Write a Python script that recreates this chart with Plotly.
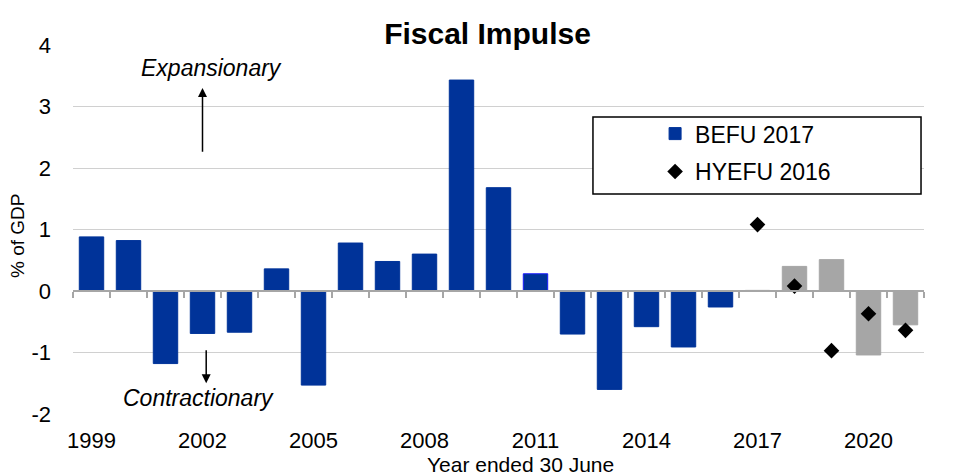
import plotly.graph_objects as go

years = list(range(1999, 2022))
befu_2017 = [0.88, 0.82, -1.18, -0.69, -0.67, 0.36, -1.53, 0.78, 0.48, 0.60,
             3.43, 1.68, 0.28, -0.70, -1.60, -0.58, -0.91, -0.26,
             0.01, 0.40, 0.51, -1.04, -0.55]
hyefu_years = [2017, 2018, 2019, 2020, 2021]
hyefu_2016 = [1.08, 0.08, -0.97, -0.37, -0.64]
tick_years = [1999, 2002, 2005, 2008, 2011, 2014, 2017, 2020]
y_ticks = [-2, -1, 0, 1, 2, 3, 4]
y_tick_text = ["-2", "-1", "0", "1", "2", "3", "4"]

BLUE = "#003399"
GREY = "#A6A6A6"
FONT = "Liberation Sans, Arial, sans-serif"

bar_colors = [BLUE if y <= 2016 else GREY for y in years]
bar_lines = ["#1A1AFF" if y == 2011 else c for y, c in zip(years, bar_colors)]

fig = go.Figure()
fig.add_trace(go.Bar(
    x=years, y=befu_2017, name="BEFU 2017", width=0.66,
    marker=dict(color=bar_colors, line=dict(color=bar_lines, width=1)),
    legendgroup="a",
))
fig.add_trace(go.Scatter(
    x=hyefu_years, y=hyefu_2016, name="HYEFU 2016", mode="markers",
    marker=dict(symbol="diamond", size=12, color="black"),
    legendgroup="b",
))
# empty trace to host the category-boundary tick axis at y=0
fig.add_trace(go.Scatter(x=[], y=[], xaxis="x2", showlegend=False))

boundaries = [y - 0.5 for y in years] + [years[-1] + 0.5]

fig.update_layout(
    width=950, height=465,
    margin=dict(l=65, r=34, t=37, b=59),
    paper_bgcolor="white", plot_bgcolor="white",
    font=dict(family=FONT, size=21, color="black"),
    showlegend=True,
    legend=dict(
        x=0.684, y=0.818, xanchor="left", yanchor="top",
        bgcolor="rgba(0,0,0,0)", borderwidth=0,
        font=dict(size=23), traceorder="grouped", tracegroupgap=5,
    ),
    xaxis=dict(
        range=[1998.5, 2021.5], tickvals=tick_years,
        ticktext=[str(t) for t in tick_years],
        showgrid=False, zeroline=False, showline=False, ticks="",
        ticklabelstandoff=11, tickfont=dict(size=22),
    ),
    xaxis2=dict(
        range=[1998.5, 2021.5], overlaying="x", anchor="free", position=1/3,
        side="bottom", tickvals=boundaries, showticklabels=False,
        ticks="outside", ticklen=6, tickwidth=1.5, tickcolor="#A6A6A6",
        showline=True, linecolor="#A6A6A6", linewidth=2,
        showgrid=False, zeroline=False,
    ),
    yaxis=dict(
        range=[-2, 4], tickvals=y_ticks, ticktext=y_tick_text,
        showgrid=True, gridcolor="#D0D0D0", gridwidth=1.3,
        zeroline=False, showline=False, ticks="", ticklabelstandoff=21,
        tickfont=dict(size=22),
    ),
    shapes=[dict(
        type="rect", xref="paper", yref="paper",
        x0=0.611, x1=0.9965, y0=0.596, y1=0.805,
        line=dict(color="black", width=1.5), fillcolor="white", layer="above",
    )],
    annotations=[
        dict(text="<b>Fiscal Impulse</b>", xref="paper", yref="paper",
             x=0.487, y=1.03, xanchor="center", yanchor="middle",
             showarrow=False, bgcolor="white", borderpad=4, width=243,
             align="center", font=dict(size=30, family=FONT)),
        dict(text="Year ended 30 June", xref="paper", yref="paper",
             x=0.526, y=-0.138, xanchor="center", yanchor="middle",
             showarrow=False, font=dict(size=21)),
        dict(text="% of GDP", xref="paper", yref="paper",
             x=-0.066, y=0.482, xanchor="center", yanchor="middle",
             textangle=-90, showarrow=False, font=dict(size=19)),
        dict(text="<i>Expansionary</i>", xref="x", yref="y",
             x=2002.25, y=3.62, showarrow=False, font=dict(size=23)),
        dict(text="<i>Contractionary</i>", xref="x", yref="y",
             x=2001.88, y=-1.74, showarrow=False, font=dict(size=23)),
        dict(text="", xref="x", yref="y", axref="x", ayref="y",
             x=2002.0, y=3.30, ax=2002.0, ay=2.24,
             showarrow=True, arrowhead=2, arrowsize=1.2, arrowwidth=1.5,
             arrowcolor="black"),
        dict(text="", xref="x", yref="y", axref="x", ayref="y",
             x=2002.1, y=-1.50, ax=2002.1, ay=-0.94,
             showarrow=True, arrowhead=2, arrowsize=1.2, arrowwidth=1.5,
             arrowcolor="black"),
    ],
)

fig.write_html("out.html")
